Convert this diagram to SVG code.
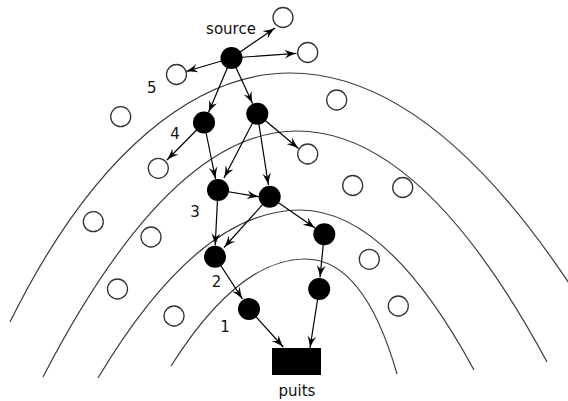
<svg xmlns="http://www.w3.org/2000/svg" width="568" height="401" viewBox="0 0 568 401">
  <style>
    .arc { fill: none; stroke: #3a3a3a; stroke-width: 1.2; }
    .edge { fill: none; stroke: #000; stroke-width: 1.2; marker-end: url(#arr); }
    .relay { fill: #000; }
    .idle { fill: #fff; stroke: #333; stroke-width: 1.3; }
    .lbl { font-family: "DejaVu Sans", Verdana, sans-serif; font-size: 15px; fill: #111; text-anchor: middle; }
  </style>
  <defs>
    <marker id="arr" markerUnits="userSpaceOnUse" markerWidth="12" markerHeight="9" refX="12" refY="4.5" orient="auto" viewBox="0 0 12 9">
      <path d="M12,4.5 C8,3.6 3,1.6 0,0 L3.8,4.5 L0,9 C3,7.4 8,5.4 12,4.5 Z" fill="#000"/>
    </marker>
  </defs>
  <rect width="568" height="401" fill="#fff"/>

  <!-- hop-distance bands around the sink -->
  <g id="bands">
    <path class="arc" d="M10,322 C95,150 197,73 290,73 C387,73 483,149 580,300"/>
    <path class="arc" d="M43,377 C128,213 212,131 297,131 C380,131 464,208 547,362"/>
    <path class="arc" d="M98,378 C165,266 233,210 300,210 C358,210 416,263 474,370"/>
    <path class="arc" d="M171,366 C216,295 260,259 305,259 C344,259 375,297 397,374"/>
  </g>

  <!-- routing links -->
  <g id="connectors">
    <line class="edge" x1="231.5" y1="58" x2="275" y2="28"/>
    <line class="edge" x1="231.5" y1="58" x2="296.5" y2="53.3"/>
    <line class="edge" x1="231.5" y1="58" x2="186" y2="71.5"/>
    <line class="edge" x1="231.5" y1="58" x2="208.5" y2="112.6"/>
    <line class="edge" x1="231.5" y1="58" x2="252.6" y2="103.6"/>
    <line class="edge" x1="204" y1="122.5" x2="167" y2="160"/>
    <line class="edge" x1="204" y1="122.5" x2="215.5" y2="179"/>
    <line class="edge" x1="257.3" y1="113.7" x2="224" y2="178"/>
    <line class="edge" x1="257.3" y1="113.7" x2="268.4" y2="185"/>
    <line class="edge" x1="257.3" y1="113.7" x2="298.5" y2="148.5"/>
    <line class="edge" x1="218" y1="190" x2="259" y2="196.8"/>
    <line class="edge" x1="218" y1="190" x2="215.2" y2="245.5"/>
    <line class="edge" x1="269.7" y1="196.7" x2="224" y2="247.5"/>
    <line class="edge" x1="269.7" y1="196.7" x2="315.2" y2="228"/>
    <line class="edge" x1="215" y1="256.7" x2="242.5" y2="299"/>
    <line class="edge" x1="324.3" y1="234.3" x2="320" y2="277.5"/>
    <line class="edge" x1="249" y1="309" x2="283.3" y2="347"/>
    <line class="edge" x1="319.2" y1="289" x2="310" y2="348"/>
  </g>

  <!-- active relays -->
  <g id="source"><circle class="relay" cx="231.5" cy="58" r="11"/><text class="lbl" x="231" y="34">source</text></g>
  <g id="n4a"><circle class="relay" cx="204" cy="122.5" r="11"/></g>
  <g id="n4b"><circle class="relay" cx="257.3" cy="113.7" r="11"/></g>
  <g id="n3a"><circle class="relay" cx="218" cy="190" r="11"/></g>
  <g id="n3b"><circle class="relay" cx="269.7" cy="196.7" r="11"/></g>
  <g id="n2b"><circle class="relay" cx="324.3" cy="234.3" r="11"/></g>
  <g id="n2a"><circle class="relay" cx="215" cy="256.7" r="11"/></g>
  <g id="n1a"><circle class="relay" cx="249" cy="309" r="11"/></g>
  <g id="n1b"><circle class="relay" cx="319.2" cy="289" r="11"/></g>
  <g id="puits"><rect x="272" y="348" width="49" height="27" fill="#000"/><text class="lbl" x="297" y="396">puits</text></g>

  <!-- idle sensors -->
  <g id="w1"><circle class="idle" cx="283" cy="17.5" r="10"/></g>
  <g id="w2"><circle class="idle" cx="307.7" cy="52.5" r="10"/></g>
  <g id="w3"><circle class="idle" cx="176.5" cy="74.5" r="10"/></g>
  <g id="w4"><circle class="idle" cx="336.7" cy="100" r="10"/></g>
  <g id="w5"><circle class="idle" cx="120.7" cy="116.7" r="10"/></g>
  <g id="w6"><circle class="idle" cx="158.3" cy="168.3" r="10"/></g>
  <g id="w7"><circle class="idle" cx="307.7" cy="154" r="10"/></g>
  <g id="w8"><circle class="idle" cx="352.7" cy="185.5" r="10"/></g>
  <g id="w9"><circle class="idle" cx="402.7" cy="187.5" r="10"/></g>
  <g id="w10"><circle class="idle" cx="93.3" cy="221.7" r="10"/></g>
  <g id="w11"><circle class="idle" cx="151" cy="237" r="10"/></g>
  <g id="w12"><circle class="idle" cx="369.3" cy="259.3" r="10"/></g>
  <g id="w13"><circle class="idle" cx="117.5" cy="289" r="10"/></g>
  <g id="w14"><circle class="idle" cx="398.3" cy="306" r="10"/></g>
  <g id="w15"><circle class="idle" cx="174" cy="316" r="10"/></g>

  <!-- band numbers -->
  <g id="levels">
    <text class="lbl" x="151.7" y="92.5">5</text>
    <text class="lbl" x="175" y="139">4</text>
    <text class="lbl" x="195" y="217">3</text>
    <text class="lbl" x="216.5" y="287">2</text>
    <text class="lbl" x="225" y="331.5">1</text>
  </g>
</svg>
